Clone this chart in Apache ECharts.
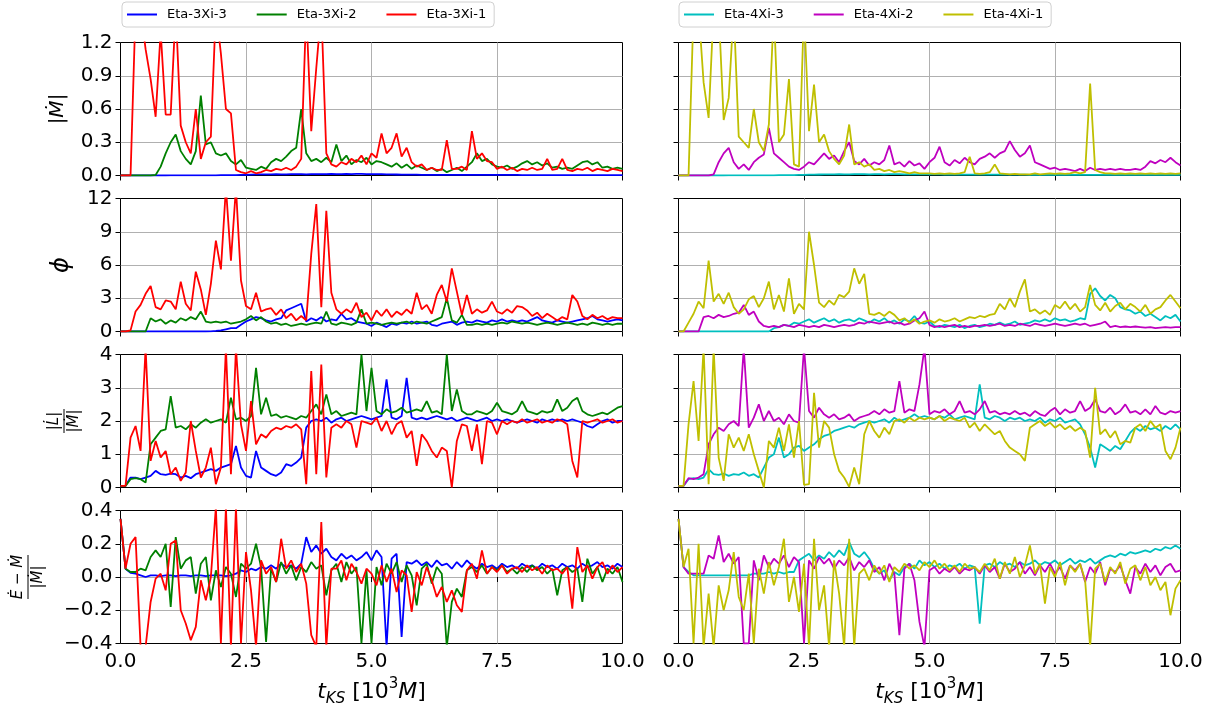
<!DOCTYPE html>
<html>
<head>
<meta charset="utf-8">
<script src="https://cdn.jsdelivr.net/npm/echarts@6/dist/echarts.min.js"></script>
<style>
  html, body { margin: 0; padding: 0; background: #ffffff; }
  #chart { width: 1211px; height: 711px; }
</style>
</head>
<body>
<div id="chart"></div>
<script>
// Time sampling of every series, in units of 10^3 M
const T_STEP = 0.1;
const X_TICK_STEP = 2.5;

const NAMES_3XI = ['Eta-3Xi-3', 'Eta-3Xi-2', 'Eta-3Xi-1'];
const NAMES_4XI = ['Eta-4Xi-3', 'Eta-4Xi-2', 'Eta-4Xi-1'];
const COLORS_3XI = ['#0000ff', '#008000', '#ff0000'];
const COLORS_4XI = ['#00bfbf', '#bf00bf', '#bfbf00'];

// ---- |Mdot| ----
const mdot_3xi3 = [0,0,0,0,0,0,0,0,0,0,
  0.002,0.002,0.002,0.002,0.002,0.002,0.002,0.002,0.002,0.002,
  0.003,0.003,0.004,0.004,0.005,0.006,0.008,0.01,0.01,0.01,
  0.01,0.012,0.01,0.011,0.012,0.013,0.012,0.01,0.012,0.013,
  0.012,0.013,0.014,0.012,0.013,0.014,0.013,0.015,0.014,0.013,
  0.012,0.013,0.012,0.011,0.01,0.009,0.008,0.008,0.007,0.007,
  0.006,0.006,0.006,0.006,0.006,0.006,0.006,0.006,0.006,0.006,
  0.005,0.005,0.005,0.005,0.005,0.005,0.005,0.005,0.005,0.005,
  0.004,0.004,0.004,0.004,0.004,0.004,0.004,0.004,0.004,0.004,
  0.004,0.004,0.004,0.004,0.004,0.004,0.004,0.004,0.004,0.004,
  0.004];
const mdot_3xi2 = [0,0,0,0,0,0,0,0.005,0.08,0.2,
  0.3,0.37,0.22,0.15,0.1,0.22,0.72,0.28,0.3,0.2,
  0.18,0.2,0.13,0.1,0.14,0.07,0.06,0.05,0.08,0.06,
  0.12,0.15,0.13,0.17,0.22,0.25,0.6,0.2,0.13,0.15,
  0.12,0.16,0.12,0.28,0.13,0.18,0.1,0.14,0.12,0.16,
  0.1,0.13,0.12,0.1,0.08,0.11,0.07,0.1,0.06,0.09,
  0.07,0.05,0.07,0.04,0.06,0.03,0.05,0.07,0.04,0.08,
  0.12,0.2,0.13,0.15,0.1,0.08,0.07,0.09,0.06,0.08,
  0.11,0.13,0.1,0.12,0.09,0.11,0.07,0.08,0.06,0.07,
  0.06,0.09,0.12,0.13,0.1,0.12,0.07,0.08,0.06,0.07,
  0.06];
const mdot_3xi1 = [0,0,0,1.5,1.5,1.14,0.87,0.53,1.3,0.55,
  0.55,1.5,0.45,0.3,0.2,0.6,0.15,0.3,0.35,1.5,
  1.1,0.6,0.56,0.05,0.03,0.02,0.04,0.02,0.03,0.05,
  0.04,0.06,0.05,0.07,0.05,0.08,0.15,1.5,0.4,0.97,
  1.5,0.2,0.1,0.08,0.12,0.1,0.15,0.12,0.18,0.1,
  0.2,0.16,0.38,0.2,0.25,0.38,0.17,0.25,0.12,0.08,
  0.1,0.05,0.07,0.05,0.05,0.32,0.06,0.06,0.08,0.05,
  0.4,0.15,0.2,0.13,0.12,0.06,0.08,0.05,0.07,0.04,
  0.06,0.05,0.07,0.05,0.06,0.15,0.05,0.06,0.15,0.05,
  0.04,0.06,0.05,0.07,0.04,0.06,0.05,0.04,0.06,0.05,
  0.04];
const mdot_4xi3 = [0,0,0,0,0,0,0,0,0,0,
  0.002,0.002,0.002,0.002,0.002,0.002,0.002,0.002,0.002,0.002,
  0.003,0.003,0.004,0.004,0.005,0.006,0.007,0.008,0.009,0.01,
  0.01,0.011,0.012,0.01,0.011,0.012,0.013,0.012,0.011,0.012,
  0.012,0.011,0.012,0.013,0.012,0.011,0.012,0.011,0.01,0.011,
  0.01,0.01,0.01,0.009,0.01,0.009,0.009,0.008,0.008,0.008,
  0.007,0.007,0.007,0.007,0.007,0.007,0.007,0.007,0.007,0.007,
  0.006,0.006,0.006,0.006,0.006,0.006,0.006,0.006,0.006,0.006,
  0.006,0.006,0.006,0.006,0.006,0.006,0.006,0.006,0.006,0.006,
  0.005,0.005,0.005,0.005,0.005,0.005,0.005,0.005,0.005,0.005,
  0.005];
const mdot_4xi2 = [0,0,0,0,0,0,0,0.01,0.12,0.2,
  0.25,0.12,0.06,0.1,0.05,0.12,0.16,0.19,0.43,0.2,
  0.16,0.12,0.08,0.06,0.05,0.08,0.12,0.1,0.15,0.2,
  0.15,0.18,0.12,0.22,0.3,0.13,0.1,0.15,0.09,0.12,
  0.1,0.14,0.27,0.1,0.12,0.08,0.13,0.09,0.11,0.06,
  0.12,0.16,0.26,0.12,0.09,0.14,0.11,0.16,0.12,0.1,
  0.15,0.17,0.2,0.16,0.2,0.22,0.31,0.23,0.17,0.2,
  0.27,0.12,0.1,0.08,0.06,0.07,0.05,0.06,0.05,0.04,
  0.06,0.04,0.07,0.05,0.06,0.05,0.06,0.05,0.06,0.05,
  0.05,0.06,0.05,0.08,0.13,0.11,0.14,0.12,0.16,0.12,
  0.09];
const mdot_4xi1 = [0,0,0,1.5,1.5,0.84,0.52,1.5,1.5,0.5,
  0.7,1.5,0.35,0.3,0.25,0.6,0.3,0.22,0.46,1.5,
  0.3,0.37,0.87,0.1,0.08,1.5,0.4,0.82,0.3,0.37,
  0.22,0.15,0.1,0.18,0.46,0.1,0.12,0.08,0.1,0.05,
  0.06,0.04,0.05,0.03,0.04,0.03,0.02,0.03,0.02,0.02,
  0.02,0.015,0.02,0.015,0.02,0.015,0.02,0.03,0.17,0.02,
  0.015,0.02,0.03,0.1,0.02,0.015,0.01,0.015,0.01,0.01,
  0.01,0.02,0.01,0.015,0.02,0.015,0.02,0.015,0.02,0.03,
  0.02,0.03,0.83,0.05,0.03,0.02,0.02,0.015,0.02,0.015,
  0.02,0.015,0.02,0.015,0.02,0.015,0.02,0.015,0.02,0.015,
  0.02];

// ---- phi ----
const phi_3xi3 = [0,0,0,0,0,0,0,0,0,0,
  0,0,0,0,0,0,0,0,0.02,0.05,
  0.1,0.2,0.3,0.3,0.6,0.9,1.1,1.3,1.2,1.0,
  0.9,1.1,1.2,1.9,2.1,2.3,2.5,0.9,1.2,1.0,
  1.3,0.9,1.1,1.0,1.6,1.1,1.2,0.9,0.8,0.7,
  0.5,0.8,0.6,0.4,0.7,0.6,0.8,0.7,0.9,0.7,
  0.8,0.9,0.6,0.5,0.7,0.8,0.9,0.6,0.8,0.9,
  0.8,1.0,0.9,0.8,1.0,0.9,1.1,0.9,1.0,0.9,
  1.0,0.9,1.1,1.3,1.0,0.9,0.8,1.0,0.9,0.8,
  0.9,1.0,1.1,1.2,1.4,1.1,1.0,0.9,1.0,1.1,
  1.0];
const phi_3xi2 = [0,0,0,0,0,0,1.2,0.9,1.1,0.7,
  1.0,0.8,1.2,1.0,1.3,1.1,1.8,0.9,0.8,0.9,
  0.8,0.9,0.7,0.8,0.9,1.1,1.4,1.0,1.3,0.9,
  0.7,0.8,0.6,0.7,0.5,0.6,0.7,0.6,0.7,0.8,
  0.7,1.8,0.7,0.6,0.8,0.7,0.6,0.8,2.0,0.7,
  0.8,0.7,0.6,0.7,0.8,0.7,0.8,0.9,0.7,0.9,
  0.8,0.7,0.9,1.1,1.3,3.0,1.0,0.8,1.5,0.6,
  0.6,0.7,0.6,0.7,0.6,0.7,0.8,0.7,0.9,0.8,
  0.7,0.8,0.7,0.6,0.7,0.8,0.7,0.6,0.7,0.8,
  0.7,0.6,0.7,0.6,0.8,0.7,0.6,0.7,0.6,0.7,
  0.7];
const phi_3xi1 = [0,0,0.1,1.8,2.4,3.4,4.1,2.2,2.0,2.8,
  2.7,2.0,4.5,2.5,1.9,5.4,3.8,1.5,4.3,8.2,
  5.6,13,6.4,13,4.6,2.3,2.0,3.5,1.8,2.0,
  2.1,1.5,2.0,1.2,1.6,1.0,1.4,1.0,7.0,11.5,
  2.2,10.9,3.5,2.0,1.6,2.0,1.7,2.6,1.3,1.7,
  1.0,1.9,1.4,2.0,1.3,1.8,1.5,2.0,1.6,3.5,
  2.0,2.4,1.6,3.3,4.2,2.7,5.7,3.6,1.5,3.3,
  1.6,2.0,1.7,1.9,2.7,1.8,1.6,2.0,1.7,2.3,
  2.2,1.9,1.4,1.7,1.2,1.6,1.3,1.0,1.3,1.1,
  3.3,2.7,1.4,1.1,1.5,1.2,1.4,1.1,1.3,1.2,
  1.2];
const phi_4xi3 = [0,0,0,0,0,0,0,0,0,0,
  0,0,0,0,0,0,0,0,0,0.3,
  0.4,0.6,0.5,0.8,0.7,0.9,1.1,0.8,1.0,1.2,
  0.9,1.1,0.8,1.0,1.1,0.9,1.2,1.0,0.8,1.1,
  0.9,1.2,0.8,1.0,0.7,1.1,0.9,1.4,0.8,0.7,
  0.9,0.5,0.4,0.6,0.5,0.4,0.6,0.3,0.5,0.6,
  0.4,0.5,0.7,0.6,0.8,0.6,0.7,0.9,0.6,0.7,
  0.8,1.0,0.9,1.1,0.9,1.2,1.0,1.1,0.9,1.0,
  1.2,1.1,3.4,3.9,3.2,2.8,3.3,3.0,2.2,2.0,
  1.9,1.6,1.8,1.4,1.6,1.3,1.0,1.4,1.2,1.5,
  0.9];
const phi_4xi2 = [0,0,0,0,0,1.3,1.4,1.2,1.5,1.3,
  1.4,1.6,1.7,2.4,1.5,1.8,0.9,0.5,0.4,0.5,
  0.4,0.6,0.5,0.4,0.6,0.5,0.4,0.5,0.4,0.6,
  0.5,0.4,0.5,0.6,0.5,0.6,0.8,0.7,0.9,0.8,
  0.7,0.8,0.9,0.7,0.8,0.6,0.7,1.0,1.2,1.8,
  0.6,0.4,0.5,0.4,0.5,0.6,0.4,0.5,0.4,0.5,
  0.5,0.6,0.5,0.6,0.7,0.5,0.6,0.5,0.7,0.6,
  0.5,0.7,0.6,0.5,0.6,0.7,0.6,0.5,0.6,0.7,
  0.6,0.7,0.5,0.6,0.7,0.9,0.4,0.5,0.4,0.45,
  0.4,0.45,0.4,0.35,0.4,0.3,0.35,0.4,0.35,0.4,
  0.4];
const phi_4xi1 = [0,0,0.8,1.6,2.7,2.1,6.4,2.7,3.4,2.5,
  3.5,2.2,1.6,2.0,2.9,3.2,2.2,3.0,4.5,2.0,
  3.3,1.8,4.8,1.6,2.5,2.0,9.0,6.0,2.6,2.2,
  2.8,2.4,3.3,3.1,3.6,5.7,4.3,5.2,1.6,1.5,
  1.7,1.4,1.8,1.5,1.0,1.2,0.8,1.1,0.7,0.9,
  1.0,0.8,1.1,0.9,1.0,1.2,0.9,1.1,1.3,1.2,
  1.4,1.3,1.5,1.6,2.5,2.0,3.0,2.2,3.6,4.7,
  1.8,2.0,1.6,1.9,1.5,2.4,2.1,2.7,2.0,2.5,
  1.8,2.2,4.2,2.4,1.9,2.6,1.8,2.3,2.6,2.0,
  2.5,2.2,1.8,2.4,1.6,2.0,2.2,2.8,3.3,2.7,
  2.1];

// ---- |Ldot| / |Mdot| ----
const lrat_3xi3 = [0.05,0.05,0.3,0.3,0.25,0.3,0.35,0.5,0.4,0.38,
  0.42,0.4,0.3,0.35,0.28,0.4,0.45,0.5,0.55,0.5,
  0.6,0.65,0.7,1.25,0.6,0.35,0.3,1.1,0.6,0.5,
  0.4,0.35,0.45,0.7,0.65,0.75,0.9,1.8,2.0,2.05,
  2.0,2.1,1.95,2.05,2.1,2.0,2.05,2.1,2.15,2.1,
  2.05,2.1,2.15,3.25,2.1,2.05,2.15,3.3,2.1,2.05,
  2.1,2.05,2.1,2.15,2.1,2.05,2.1,2.0,2.05,2.1,
  2.05,2.0,2.05,2.1,2.0,2.05,2.0,2.05,2.0,1.95,
  2.0,2.05,2.0,1.95,2.05,2.0,2.05,2.0,2.05,2.0,
  2.05,2.0,1.95,1.85,1.8,1.9,2.0,2.05,1.95,2.0,
  2.0];
const lrat_3xi2 = [0.05,0.05,0.25,0.28,0.25,0.15,1.3,1.5,1.7,1.75,
  2.75,1.8,1.85,1.75,1.9,1.8,1.95,2.05,1.95,2.0,
  2.05,1.95,2.7,2.05,2.1,2.0,2.15,3.6,2.2,2.7,
  2.15,2.2,2.1,2.15,2.1,2.05,2.15,2.1,2.3,2.5,
  2.2,2.8,2.2,2.3,2.15,2.2,2.25,2.2,4.0,2.3,
  3.6,2.3,2.2,2.35,2.25,2.3,2.4,2.25,2.3,2.35,
  2.3,2.6,2.25,2.3,2.2,4.0,2.3,2.95,2.3,2.2,
  2.2,2.3,2.25,2.2,2.3,2.55,2.3,2.25,2.2,2.3,
  2.6,2.3,2.25,2.2,2.3,2.25,2.3,2.65,2.3,2.4,
  2.6,2.7,2.3,2.2,2.15,2.2,2.25,2.2,2.3,2.4,
  2.45];
const lrat_3xi1 = [0.05,0.05,1.5,1.85,1.1,4.2,0.8,1.4,0.9,1.1,
  0.4,0.6,0.2,0.45,2.0,1.1,0.3,0.6,1.2,0.1,
  0.6,4.2,0.4,4.2,1.9,1.1,2.6,1.3,1.6,1.5,
  1.7,1.8,1.75,1.85,1.8,1.9,1.75,0.1,3.5,0.4,
  3.7,0.3,1.8,1.9,1.8,2.0,1.9,1.2,2.0,1.95,
  1.9,2.1,1.7,2.0,1.6,1.9,2.0,1.5,1.7,0.65,
  1.6,1.4,1.1,0.9,1.2,1.1,0.0,1.4,1.9,1.85,
  1.1,1.9,0.7,2.0,1.95,1.6,2.0,1.9,2.0,1.95,
  2.05,1.95,2.0,2.05,1.95,2.0,1.95,2.05,2.0,1.9,
  0.8,0.3,2.0,1.95,2.0,2.05,1.95,2.0,2.05,1.95,
  2.0];
const lrat_4xi3 = [0.05,0.05,0.25,0.28,0.25,0.3,0.55,0.4,0.38,0.42,
  0.35,0.4,0.38,0.45,0.35,0.4,0.3,0.6,0.9,1.0,
  1.5,0.9,1.0,1.2,1.25,1.1,1.2,1.3,1.45,1.55,
  1.6,1.7,1.75,1.8,1.85,1.8,1.9,1.95,2.0,1.95,
  2.0,2.05,1.95,2.1,2.0,2.05,2.1,2.2,2.1,2.15,
  2.1,2.05,2.15,2.1,2.2,2.05,2.1,2.15,2.1,2.05,
  3.1,2.1,2.05,2.15,2.1,2.0,2.1,2.05,2.1,2.0,
  2.05,2.0,2.1,1.95,2.05,2.0,2.1,1.95,2.0,2.05,
  1.9,1.6,1.2,0.6,1.3,1.2,1.1,1.25,1.15,1.4,
  1.65,1.8,1.7,1.85,1.75,1.8,1.7,1.85,1.75,1.9,
  1.75];
const lrat_4xi2 = [0.05,0.05,0.28,0.25,0.3,0.4,1.3,1.6,1.8,1.7,
  1.9,2.0,1.85,4.2,1.8,2.1,2.5,2.0,2.3,2.0,
  2.1,1.9,2.2,2.0,1.95,4.2,2.3,2.1,2.4,2.2,
  2.1,2.2,2.05,2.1,2.2,2.0,2.1,2.15,2.2,2.3,
  2.2,2.35,2.25,2.3,3.2,2.25,2.35,2.3,3.1,4.2,
  2.2,2.3,2.25,2.35,2.2,2.3,2.6,2.25,2.3,2.2,
  2.35,2.6,2.25,2.3,2.2,2.25,2.2,2.3,2.2,2.25,
  2.15,2.3,2.2,2.15,2.3,2.4,2.2,2.35,2.25,2.3,
  2.6,2.3,2.4,2.65,2.3,2.25,2.4,2.2,2.3,2.5,
  2.25,2.3,2.2,2.35,2.2,2.45,2.25,2.2,2.3,2.25,
  2.3];
const lrat_4xi1 = [0.05,0.05,1.9,3.2,1.4,4.2,0.1,4.2,0.9,0.2,
  1.6,1.2,1.5,1.1,1.6,1.0,0.5,0.0,1.4,1.2,
  1.8,1.1,1.9,0.9,2.0,0.08,0.1,2.85,1.2,2.0,
  1.8,1.0,0.5,0.3,0.02,0.6,0.1,1.6,2.0,1.7,
  1.5,1.8,1.6,2.0,2.05,1.95,2.1,2.0,2.1,2.05,
  2.1,2.05,2.15,2.0,2.1,2.05,2.0,2.1,1.8,1.95,
  1.7,1.9,1.75,1.6,1.7,1.4,1.2,1.1,1.0,0.8,
  1.8,1.9,2.0,1.85,1.95,1.8,1.9,1.75,1.85,1.7,
  1.8,1.7,0.9,3.0,1.6,1.75,1.5,1.7,1.3,1.4,
  1.35,1.8,1.9,1.7,2.0,1.8,1.9,1.1,0.85,1.2,
  1.8];

// ---- (Edot - Mdot) / |Mdot| ----
const ediff_3xi3 = [0.35,0.05,0.025,0.02,0.01,0.0,0.01,0.01,0.005,0.01,
  0.01,0.005,0.01,0.01,0.005,0.01,0.01,0.005,0.01,0.01,
  0.01,0.005,0.01,0.02,0.04,0.03,0.05,0.04,0.06,0.05,
  0.07,0.05,0.08,0.06,0.07,0.05,0.08,0.24,0.15,0.19,
  0.14,0.17,0.12,0.1,0.14,0.11,0.13,0.1,0.12,0.15,
  0.1,0.16,0.12,-0.42,0.11,0.14,-0.36,0.09,0.08,0.1,
  0.07,0.09,0.06,0.1,0.07,0.08,0.05,0.09,0.06,0.1,
  0.07,0.05,0.08,0.06,0.07,0.05,0.08,0.06,0.07,0.05,
  0.08,0.06,0.07,0.05,0.08,0.06,0.07,0.05,0.08,0.06,
  0.07,0.05,0.08,0.06,0.07,0.09,0.06,0.07,0.05,0.08,
  0.06];
const ediff_3xi2 = [0.35,0.05,0.03,0.03,0.05,0.04,0.12,0.16,0.12,0.2,
  -0.18,0.24,0.05,0.1,0.12,-0.1,0.08,0.12,-0.14,0.04,
  -0.06,0.06,0.02,-0.12,0.08,0.05,0.08,0.2,0.06,-0.39,
  0.05,-0.03,0.09,0.02,0.07,-0.02,0.06,0.03,0.09,0.05,
  0.07,-0.11,0.04,0.08,-0.03,0.09,0.02,0.06,-0.4,0.04,
  -0.4,0.06,-0.05,0.08,0.02,0.09,-0.03,0.07,0.01,-0.17,
  0.05,0.08,-0.04,0.06,0.02,-0.42,-0.15,-0.07,-0.12,0.04,
  0.06,0.03,0.07,0.02,0.06,0.04,0.07,0.03,0.05,0.02,
  0.06,0.03,0.07,0.04,0.06,0.02,0.05,-0.11,0.04,0.06,
  0.03,0.05,-0.15,0.11,0.02,0.06,-0.03,0.05,0.02,0.06,
  -0.03];
const ediff_3xi1 = [0.35,0.05,0.2,0.24,-0.42,-0.42,-0.15,-0.01,0.02,-0.08,
  0.2,0.22,-0.2,-0.28,-0.38,-0.3,-0.02,-0.14,0.0,0.42,
  -0.4,0.42,-0.42,0.42,-0.4,0.15,-0.08,-0.42,0.1,0.02,
  0.06,-0.03,0.23,0.05,0.1,0.03,0.08,-0.04,-0.35,-0.42,
  0.33,-0.42,0.05,0.05,0.1,-0.02,0.08,0.03,-0.04,0.05,
  0.02,-0.05,0.07,-0.03,0.05,-0.09,0.04,0.01,-0.21,0.03,
  -0.05,0.06,-0.02,-0.12,-0.06,-0.15,-0.08,-0.17,-0.21,0.04,
  0.08,-0.01,0.16,0.02,0.06,0.03,0.07,0.02,0.05,0.06,
  0.03,0.07,0.04,0.06,0.02,0.07,0.04,0.05,0.02,0.06,
  -0.19,0.18,0.03,0.07,-0.01,0.06,0.09,0.02,0.07,0.03,
  0.06];
const ediff_4xi3 = [0.35,0.06,0.03,0.01,0.01,0.01,0.01,0.01,0.01,0.01,
  0.01,0.01,0.01,0.01,0.01,0.02,0.02,0.02,0.03,0.02,
  0.03,0.02,0.03,0.03,0.1,0.12,0.14,0.1,0.13,0.11,
  0.15,0.12,0.16,0.13,0.21,0.14,0.12,0.15,0.11,0.05,
  0.02,0.04,-0.02,0.03,0.01,0.06,0.08,0.05,0.1,0.07,
  0.09,0.06,0.08,0.05,0.07,0.06,0.08,0.05,0.07,0.06,
  -0.28,0.07,0.08,0.06,0.09,0.07,0.08,0.06,0.09,0.07,
  0.08,0.1,0.07,0.09,0.08,0.1,0.07,0.09,0.11,0.08,
  0.1,0.09,0.11,0.08,0.1,0.12,0.13,0.12,0.14,0.13,
  0.15,0.14,0.15,0.16,0.15,0.17,0.16,0.18,0.17,0.19,
  0.17];
const ediff_4xi2 = [0.35,0.06,0.02,0.02,0.02,0.02,0.13,0.11,0.25,0.09,
  0.14,0.08,0.12,-0.4,-0.4,0.1,-0.02,0.13,0.06,0.11,
  0.08,0.13,0.06,0.12,0.09,-0.4,0.1,0.05,0.12,0.08,
  0.11,0.05,0.1,0.07,0.12,0.04,0.09,0.06,0.1,0.03,
  0.06,-0.02,0.08,0.02,-0.35,0.05,0.08,-0.02,-0.27,-0.42,
  0.04,0.06,0.02,0.05,0.03,0.06,0.02,0.05,0.04,0.06,
  0.02,0.07,0.03,0.06,-0.01,0.08,0.03,0.05,0.09,0.02,
  0.06,0.01,0.07,0.03,0.08,0.02,0.06,-0.01,0.07,0.04,
  0.08,-0.03,0.06,0.02,0.09,-0.05,0.05,0.03,0.07,-0.02,
  -0.1,0.06,0.02,0.08,0.03,0.07,0.01,0.06,0.08,0.03,
  0.04];
const ediff_4xi1 = [0.35,0.06,0.17,-0.4,0.2,-0.42,-0.1,-0.42,-0.05,-0.2,
  -0.08,0.15,-0.12,-0.2,0.02,-0.4,0.05,-0.1,0.09,-0.05,
  0.06,0.23,-0.15,0.0,-0.21,0.08,-0.42,0.23,-0.2,-0.05,
  -0.42,0.1,-0.1,-0.42,0.23,-0.42,0.02,0.05,-0.02,0.07,
  0.02,0.07,-0.03,0.06,0.03,0.08,0.05,0.07,0.04,0.09,
  0.06,0.1,0.05,0.08,0.04,0.07,0.03,0.08,0.05,0.06,
  0.03,0.08,0.04,0.11,-0.01,0.09,0.02,0.12,0.0,0.07,
  0.19,0.02,0.08,-0.16,0.06,0.0,0.09,-0.05,0.07,0.03,
  0.08,-0.02,-0.42,0.05,0.08,-0.03,0.06,0.02,0.09,-0.04,
  0.05,0.07,-0.02,0.06,-0.05,0.0,-0.08,-0.03,-0.23,-0.07,
  -0.02];

// One row of panels per quantity: y range, tick step, label digits, and the series of each column
const ROWS = [
  { min: 0, max: 1.2, step: 0.3, digits: 1,
    left: [mdot_3xi3, mdot_3xi2, mdot_3xi1], right: [mdot_4xi3, mdot_4xi2, mdot_4xi1] },
  { min: 0, max: 12, step: 3, digits: 0,
    left: [phi_3xi3, phi_3xi2, phi_3xi1], right: [phi_4xi3, phi_4xi2, phi_4xi1] },
  { min: 0, max: 4, step: 1, digits: 0,
    left: [lrat_3xi3, lrat_3xi2, lrat_3xi1], right: [lrat_4xi3, lrat_4xi2, lrat_4xi1] },
  { min: -0.4, max: 0.4, step: 0.2, digits: 1,
    left: [ediff_3xi3, ediff_3xi2, ediff_3xi1], right: [ediff_4xi3, ediff_4xi2, ediff_4xi1] }
];

// Panel geometry (px); half-pixel offsets keep the 1px frames crisp
const COL_LEFT = [120.5, 678.5];
const ROW_TOP = [42.5, 198.5, 354.5, 510.5];
const PANEL_W = 502;
const PANEL_H = 133;

const FONT = 'DejaVu Sans';
const GRID_COLOR = '#b0b0b0';

function toPairs(vals) {
  return vals.map((v, i) => [Math.round(i * T_STEP * 1000) / 1000, v]);
}
function fmtNum(v, digits) {
  const s = Math.abs(v).toFixed(digits);
  return (v < -1e-9 ? '\u2212' : '') + s;
}

const splitStyle = {
  show: true, showMinLine: false, showMaxLine: false,
  lineStyle: { color: GRID_COLOR, width: 1 }
};
const tickStyle = { show: true, length: 5, lineStyle: { color: '#000', width: 1 } };

const grids = [], xAxes = [], yAxes = [], series = [];
ROWS.forEach((row, r) => {
  [0, 1].forEach(c => {
    const g = grids.length;
    grids.push({
      left: COL_LEFT[c], top: ROW_TOP[r], width: PANEL_W, height: PANEL_H,
      show: true, borderColor: '#000000', borderWidth: 1, backgroundColor: 'transparent'
    });
    xAxes.push({
      type: 'value', gridIndex: g, min: 0, max: 10, interval: X_TICK_STEP,
      axisLine: { show: false },
      axisTick: tickStyle,
      axisLabel: {
        show: r === ROWS.length - 1, fontSize: 20, fontFamily: FONT, color: '#000',
        margin: 8, showMinLabel: true, showMaxLabel: true,
        formatter: v => v.toFixed(1)
      },
      splitLine: splitStyle
    });
    yAxes.push({
      type: 'value', gridIndex: g, min: row.min, max: row.max, interval: row.step,
      axisLine: { show: false },
      axisTick: tickStyle,
      axisLabel: {
        show: c === 0, fontSize: 20, fontFamily: FONT, color: '#000', margin: 8,
        showMinLabel: true, showMaxLabel: true,
        formatter: v => fmtNum(v, row.digits)
      },
      splitLine: splitStyle
    });
    const sets = c === 0 ? row.left : row.right;
    const names = c === 0 ? NAMES_3XI : NAMES_4XI;
    const colors = c === 0 ? COLORS_3XI : COLORS_4XI;
    sets.forEach((vals, k) => {
      series.push({
        type: 'line', name: names[k], xAxisIndex: g, yAxisIndex: g,
        data: toPairs(vals), symbol: 'none', showSymbol: false, clip: true,
        color: colors[k], lineStyle: { color: colors[k], width: 1.8 },
        silent: true
      });
    });
  });
});

// Axis titles
const txt = (extra) => Object.assign({ fontFamily: FONT, fill: '#000', color: '#000' }, extra);
function richText(x, y, text, rich, rotated) {
  return {
    type: 'text', x: x, y: y, rotation: rotated ? Math.PI / 2 : 0,
    style: { text: text, rich: rich, align: 'center', verticalAlign: 'middle',
             fontFamily: FONT, fontSize: 20, fill: '#000' }
  };
}
function fraction(cx, cy, num, den, fs, len, gap) {
  const rich = { u: txt({ fontSize: fs }), i: txt({ fontSize: fs, fontStyle: 'italic' }) };
  return {
    type: 'group', x: cx, y: cy, rotation: Math.PI / 2,
    children: [
      { type: 'text', x: 0, y: -gap, style: { text: num, rich: rich, align: 'center', verticalAlign: 'middle', fontFamily: FONT, fontSize: fs, fill: '#000' } },
      { type: 'line', shape: { x1: -len / 2, y1: 0, x2: len / 2, y2: 0 }, style: { stroke: '#000', lineWidth: 1 } },
      { type: 'text', x: 0, y: gap, style: { text: den, rich: rich, align: 'center', verticalAlign: 'middle', fontFamily: FONT, fontSize: fs, fill: '#000' } }
    ]
  };
}
const richY = { u: txt({ fontSize: 20 }), i: txt({ fontSize: 20, fontStyle: 'italic' }) };
const richPhi = { i: txt({ fontSize: 24, fontStyle: 'italic' }) };
const richX = {
  u: txt({ fontSize: 22, lineHeight: 30 }),
  i: txt({ fontSize: 22, fontStyle: 'italic', lineHeight: 30 }),
  s: txt({ fontSize: 15, fontStyle: 'italic', lineHeight: 16, verticalAlign: 'bottom' }),
  p: txt({ fontSize: 15, lineHeight: 16, verticalAlign: 'top' })
};
const X_TITLE = '{i|t}{s|KS}{u| [10}{p|3}{i|M}{u|]}';

const graphics = [
  richText(58, ROW_TOP[0] + PANEL_H / 2, '{u||}{i|\u1E40}{u||}', richY, true),
  richText(62, ROW_TOP[1] + PANEL_H / 2, '{i|\u03D5}', richPhi, true),
  fraction(64, ROW_TOP[2] + PANEL_H / 2, '{u||}{i|L\u0307}{u||}', '{u||}{i|\u1E40}{u||}', 15, 24, 10),
  fraction(28, ROW_TOP[3] + PANEL_H / 2, '{i|\u0116}{u| \u2212 }{i|\u1E40}', '{u||}{i|\u1E40}{u||}', 15, 44, 10),
  richText(COL_LEFT[0] + PANEL_W / 2, 692, X_TITLE, richX, false),
  richText(COL_LEFT[1] + PANEL_W / 2, 692, X_TITLE, richX, false)
];

const legendBase = {
  orient: 'horizontal', top: 2, icon: 'rect', itemWidth: 30, itemHeight: 2, itemGap: 30,
  padding: [6, 8, 6, 5], borderColor: '#d0d0d0', borderWidth: 1, borderRadius: 4,
  backgroundColor: '#ffffff', selectedMode: false,
  textStyle: { fontSize: 13, fontFamily: FONT, color: '#000', padding: [0, 0, 0, 5] }
};

const chart = echarts.init(document.getElementById('chart'), null, { renderer: 'canvas' });
chart.setOption({
  animation: false,
  backgroundColor: '#ffffff',
  legend: [
    Object.assign({}, legendBase, { left: 122, data: NAMES_3XI }),
    Object.assign({}, legendBase, { left: 679, data: NAMES_4XI })
  ],
  grid: grids,
  xAxis: xAxes,
  yAxis: yAxes,
  series: series,
  graphic: graphics
});
</script>
</body>
</html>
